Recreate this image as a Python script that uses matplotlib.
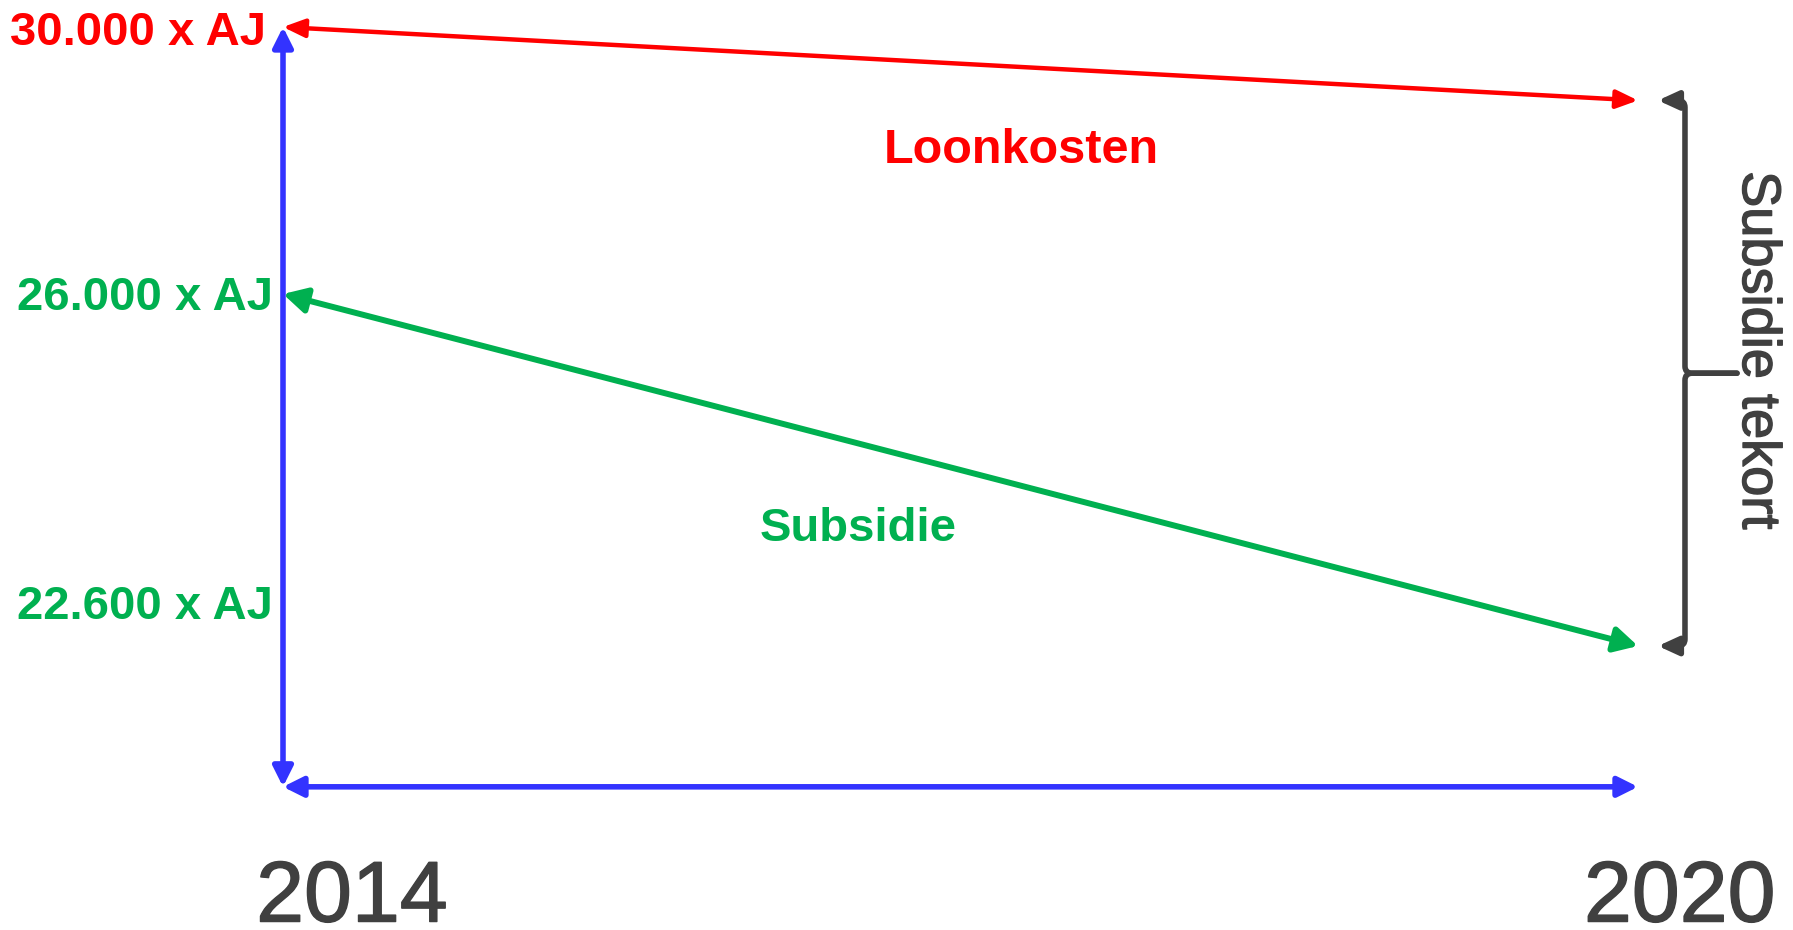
import numpy as np
import matplotlib.pyplot as plt
import matplotlib.patheffects as pe
from matplotlib.patches import FancyArrowPatch
from matplotlib.path import Path
from matplotlib.transforms import IdentityTransform

# data
years = [2014, 2020]
loonkosten = [30000, 28900]
subsidie = [26000, 22600]
value_labels = ['30.000 x AJ', '26.000 x AJ', '22.600 x AJ']
label_values = [30000, 26000, 22600]
year_labels = ['2014', '2020']

RED = '#FF0000'
GREEN = '#00B050'
BLUE = '#3333FF'
GREY = '#404040'

plt.rcParams['font.family'] = ['Liberation Sans', 'DejaVu Sans']

W, H, DPI = 1793, 930, 100
fig = plt.figure(figsize=(W / DPI, H / DPI), dpi=DPI)
ax = fig.add_axes([0, 0, 1, 1])
ax.set_axis_off()

# schematic vertical scale: piecewise linear between the labelled levels
scale_vals = [0, 22600, 26000, 30000, 60000]
scale_px = [-2056, 284, 636, 903, 2906]

def fwd(v):
    return np.interp(v, scale_vals, scale_px)

def inv(p):
    return np.interp(p, scale_px, scale_vals)

ax.set_yscale('function', functions=(fwd, inv))
ax.set_ylim(inv(0), inv(H))
px_per_year = 225.83
ax.set_xlim(2014 - 283 / px_per_year, 2014 + (W - 283) / px_per_year)
axis_floor = 21240

# slightly heavier strokes for the regular-weight grey text
heavy = [pe.withStroke(linewidth=1.0, foreground=GREY)]


def arrow(p0, p1, color, lw, hl, hw, style='<|-|>'):
    a = FancyArrowPatch(p0, p1, arrowstyle=f'{style},head_length={hl},head_width={hw}',
                        mutation_scale=1, lw=lw, color=color,
                        shrinkA=0, shrinkB=0)
    ax.add_patch(a)
    return a


# axes arrows
arrow((years[0], axis_floor), (years[0], loonkosten[0]), BLUE, 4, 12, 6)
arrow((years[0], axis_floor), (years[1], axis_floor), BLUE, 4, 12, 6)

# cost and subsidy lines
arrow((years[0], loonkosten[0]), (years[1], loonkosten[1]), RED, 3.2, 13, 5.5)
arrow((years[0], subsidie[0]), (years[1], subsidie[1]), GREEN, 4.3, 14, 7.5)

# brace for the gap (built in display pixels)
tx = ax.transData.transform
top = tx((years[1], loonkosten[1]))
bot = tx((years[1], subsidie[1]))
x_tip = top[0] + 20
x_v = top[0] + 47
x_b = top[0] + 99
y_m = (top[1] + bot[1]) / 2
r = 7
for y_end, sgn in [(top[1], 1), (bot[1], -1)]:
    verts = [(x_b, y_m), (x_v + r, y_m), (x_v, y_m), (x_v, y_m + sgn * r),
             (x_v, y_end - sgn * r), (x_v, y_end), (x_v - r, y_end), (x_tip, y_end)]
    codes = [Path.MOVETO, Path.LINETO, Path.CURVE3, Path.CURVE3,
             Path.LINETO, Path.CURVE3, Path.CURVE3, Path.LINETO]
    b = FancyArrowPatch(path=Path(verts, codes),
                        arrowstyle='-|>,head_length=12,head_width=5.5',
                        mutation_scale=1, lw=4, color=GREY,
                        transform=IdentityTransform())
    ax.add_patch(b)

# value labels on the left
label_colors = [RED, GREEN, GREEN]
label_offsets = [(-12.2, -13), (-7.2, -11.5), (-7.2, 19.4)]
for val, lab, col, off in zip(label_values, value_labels, label_colors, label_offsets):
    ax.annotate(lab, (years[0], val), xytext=off, textcoords='offset points',
                ha='right', va='baseline', color=col, fontsize=34, fontweight='bold')

# year labels
year_offsets = [(49.7, -97), (30.2, -97)]
for yr, lab, off in zip(years, year_labels, year_offsets):
    ax.annotate(lab, (yr, axis_floor), xytext=off, textcoords='offset points',
                ha='center', va='baseline', color=GREY, fontsize=62,
                path_effects=heavy)

fig.text(1021 / W, 1 - 163 / H, 'Loonkosten', ha='center', va='baseline',
         color=RED, fontsize=35, fontweight='bold')
fig.text(858 / W, 1 - 541 / H, 'Subsidie', ha='center', va='baseline',
         color=GREEN, fontsize=34, fontweight='bold')
fig.text(1757 / W, 1 - 350 / H, 'Subsidie tekort', ha='center', va='center',
         rotation=-90, color=GREY, fontsize=39, path_effects=heavy)

fig.savefig('out.png', dpi=DPI)
